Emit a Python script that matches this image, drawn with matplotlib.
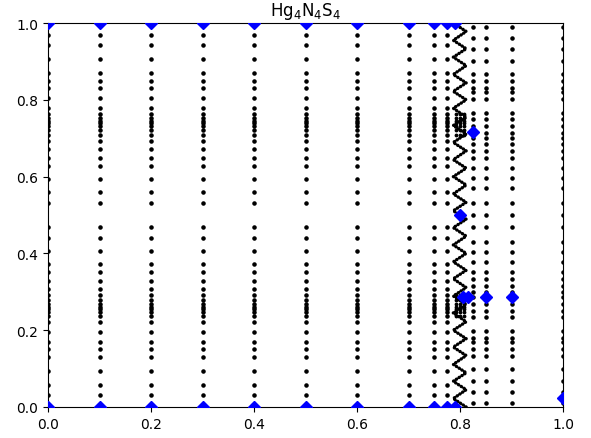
import matplotlib
matplotlib.use("Agg")
import matplotlib.pyplot as plt

# column positions of the black sample points
x_cols_main = [0.0, 0.1, 0.2, 0.3, 0.4, 0.5, 0.6, 0.7, 0.75, 0.775]
x_cols_side = [0.825, 0.85, 0.9, 1.0]

y_main = [0.031, 0.058, 0.093, 0.129, 0.151, 0.170, 0.196, 0.221, 0.238, 0.247,
          0.255, 0.261, 0.268, 0.279, 0.292, 0.307, 0.327, 0.351, 0.372, 0.407,
          0.440, 0.470, 0.530, 0.560, 0.593, 0.628, 0.649, 0.673, 0.693, 0.708,
          0.721, 0.732, 0.739, 0.745, 0.753, 0.762, 0.779, 0.804, 0.830, 0.849,
          0.871, 0.907, 0.942, 0.969]

y_side = [0.010, 0.040, 0.068, 0.099, 0.134, 0.151, 0.168, 0.180, 0.199, 0.234,
          0.251, 0.268, 0.286, 0.299, 0.316, 0.333, 0.351, 0.377, 0.403, 0.429,
          0.468, 0.500, 0.532, 0.571, 0.597, 0.623, 0.649, 0.667, 0.684, 0.701,
          0.714, 0.732, 0.749, 0.766, 0.801, 0.820, 0.832, 0.849, 0.866, 0.901,
          0.932, 0.960, 0.990]

# zigzag chain of points near x = 0.8
zz_x = [0.812, 0.787] * 23
zz_y = [0.000, 0.022, 0.045, 0.067, 0.089, 0.111, 0.134, 0.156, 0.178, 0.200,
        0.222, 0.245, 0.267, 0.289, 0.311, 0.334, 0.356, 0.378, 0.400, 0.422,
        0.445, 0.467, 0.489, 0.511, 0.533, 0.555, 0.578, 0.600, 0.622, 0.644,
        0.667, 0.689, 0.711, 0.733, 0.755, 0.778, 0.800, 0.822, 0.844, 0.866,
        0.889, 0.911, 0.933, 0.955, 0.978, 1.000]

# short rows between the zigzag edges
x_rows = [0.792, 0.800, 0.808]
y_rows = [0.238, 0.247, 0.255, 0.261, 0.268, 0.279, 0.292,
          0.708, 0.721, 0.732, 0.739, 0.745, 0.753, 0.762]

# blue diamonds
dia_x = [0.0, 0.1, 0.2, 0.3, 0.4, 0.5, 0.6, 0.7, 0.75, 0.775, 0.79,
         0.0, 0.1, 0.2, 0.3, 0.4, 0.5, 0.6, 0.7, 0.75, 0.775, 0.79,
         0.8, 0.825, 0.806, 0.815, 0.85, 0.9, 1.0]
dia_y = [0.0] * 11 + [1.0] * 11 + [0.5, 0.715, 0.2857, 0.2857, 0.2857, 0.2857, 0.023]

fig = plt.figure(figsize=(5.91, 4.39), dpi=100)
ax = fig.add_axes([48 / 591, 1 - 408 / 439, 515 / 591, 384 / 439])

for xc in x_cols_main:
    ax.plot([xc] * len(y_main), y_main, 'k.', ms=4.5)
for xc in x_cols_side:
    ax.plot([xc] * len(y_side), y_side, 'k.', ms=4.5)
for xr in x_rows:
    ax.plot([xr] * len(y_rows), y_rows, 'k.', ms=3.5)

ax.plot(zz_x, zz_y, color='k', lw=2.4, linestyle=(0, (0.1, 0.9)),
        dash_capstyle='round')

ax.plot(dia_x, dia_y, 'bD', ms=6.5, zorder=5)

ax.set_xlim(0, 1)
ax.set_ylim(0, 1)
ax.set_title('Hg$_4$N$_4$S$_4$', fontsize=12)

fig.savefig('out.png', dpi=100)
